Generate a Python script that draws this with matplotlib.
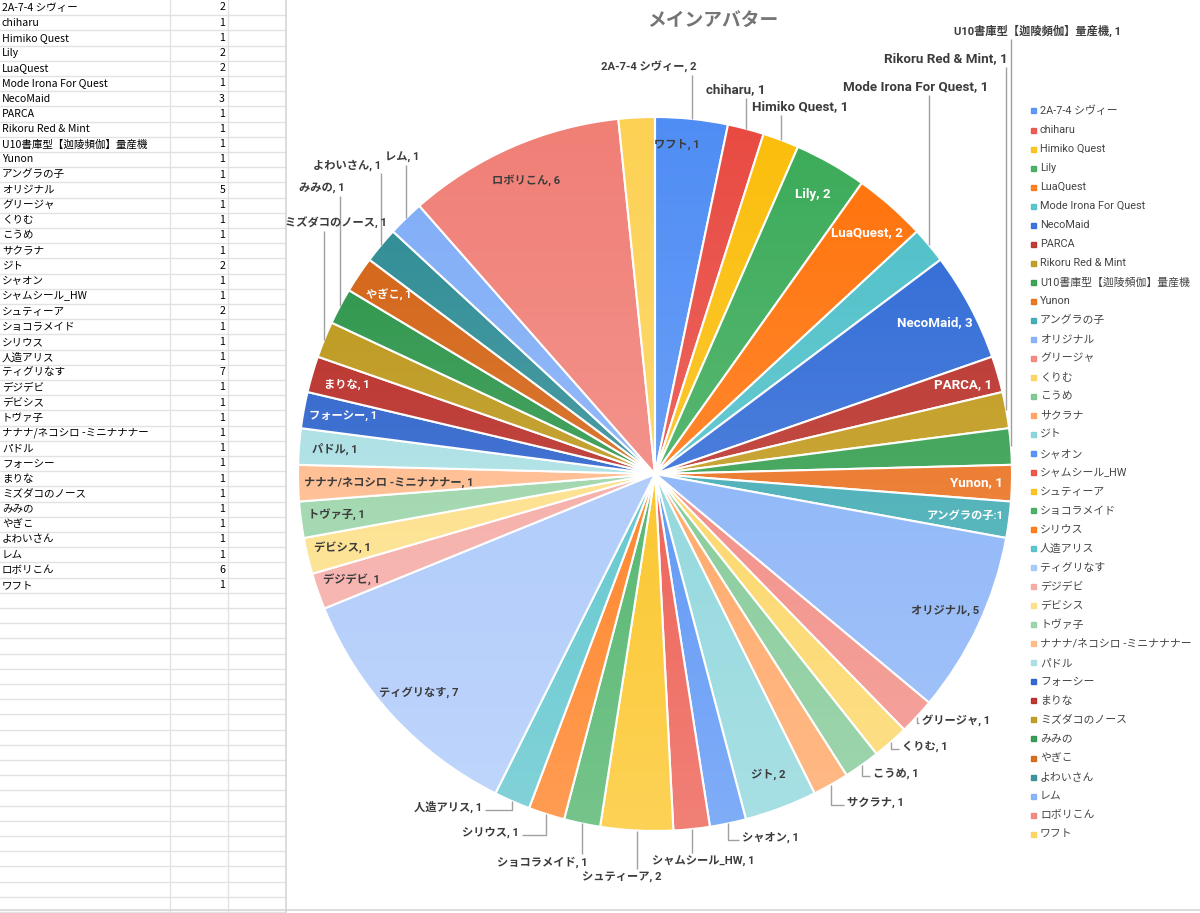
import numpy as np
import matplotlib.pyplot as plt
from matplotlib.patches import Circle, Rectangle

plt.rcParams['font.family'] = ['Roboto', 'Noto Sans CJK JP', 'DejaVu Sans']

names = ['2A-7-4 シヴィー', 'chiharu', 'Himiko Quest', 'Lily', 'LuaQuest',
         'Mode Irona For Quest', 'NecoMaid', 'PARCA', 'Rikoru Red & Mint',
         'U10書庫型【迦陵頻伽】量産機', 'Yunon', 'アングラの子', 'オリジナル',
         'グリージャ', 'くりむ', 'こうめ', 'サクラナ', 'ジト', 'シャオン',
         'シャムシール_HW', 'シュティーア', 'ショコラメイド', 'シリウス', '人造アリス',
         'ティグリなす', 'デジデビ', 'デビシス', 'トヴァ子', 'ナナナ/ネコシロ -ミニナナナー',
         'パドル', 'フォーシー', 'まりな', 'ミズダコのノース', 'みみの', 'やぎこ',
         'よわいさん', 'レム', 'ロボリこん', 'ワフト']
counts = [2, 1, 1, 2, 2, 1, 3, 1, 1, 1, 1, 1, 5, 1, 1, 1, 1, 2, 1, 1, 2, 1, 1, 1,
          7, 1, 1, 1, 1, 1, 1, 1, 1, 1, 1, 1, 1, 6, 1]
colors = ['#4A8AF4', '#E8453C', '#FBBC04', '#34A853', '#FF6D01', '#46BDC6',
          '#2462D4', '#B5231C', '#BC920A', '#23963F', '#E8640A', '#2EA3AC',
          '#7BAAF7', '#F07B72', '#FCD04F', '#71C287', '#FF994D', '#7ED1D7',
          '#4285F4', '#EA4335', '#FBBC04', '#34A853', '#FF6D01', '#46BDC6',
          '#A1C2FA', '#F4A19B', '#FDDC7A', '#8FD0A0', '#FFB37F', '#A0DCE1',
          '#1A55C8', '#B31D17', '#B8900A', '#1E8E3E', '#D15A06', '#23868F',
          '#7BAAF7', '#F07B72', '#FCD04F']

# labels drawn inside the slices
inside = ['ワフト', 'Lily', 'LuaQuest', 'NecoMaid', 'PARCA', 'Yunon', 'アングラの子',
          'オリジナル', 'ジト', 'ティグリなす', 'デジデビ', 'デビシス', 'トヴァ子',
          'ナナナ/ネコシロ -ミニナナナー', 'パドル', 'フォーシー', 'まりな', 'やぎこ', 'ロボリこん']
inside_nudge = {'ワフト': (38, -9)}
label_fmt = {'アングラの子': '{}:{}'}

# labels outside with leader lines: text x, text y, alignment, leader style
outside = {
    '2A-7-4 シヴィー': (649, 67, 'center', 'up'),
    'chiharu': (736, 90, 'center', 'up'),
    'Himiko Quest': (800, 107, 'center', 'up'),
    'Mode Irona For Quest': (916, 87, 'center', 'up'),
    'Rikoru Red & Mint': (946, 59, 'center', 'up'),
    'U10書庫型【迦陵頻伽】量産機': (1037, 31, 'center', 'up'),
    'よわいさん': (347, 165, 'center', 'up'),
    'レム': (402, 157, 'center', 'up'),
    'みみの': (322, 188, 'center', 'up'),
    'ミズダコのノース': (336, 223, 'center', 'up'),
    'グリージャ': (922, 720, 'left', 'side'),
    'くりむ': (902, 746, 'left', 'side'),
    'こうめ': (873, 773, 'left', 'side'),
    'サクラナ': (847, 802, 'left', 'side'),
    'シャオン': (742, 837, 'left', 'side'),
    'シャムシール_HW': (703, 861, 'center', 'down'),
    'シュティーア': (622, 877, 'center', 'down'),
    'ショコラメイド': (542, 862, 'center', 'down'),
    'シリウス': (519, 832, 'right', 'side'),
    '人造アリス': (482, 807, 'right', 'side'),
}

W, H = 1200, 913
fig = plt.figure(figsize=(12, 9.13), dpi=100)
ax = fig.add_axes([0, 0, 1, 1])

# ---- spreadsheet on the left
row_h = 15.2
grid = '#e2e2e2'
for i in range(int(H / row_h) + 1):
    ax.plot([0, 285], [row_h * (i + 1), row_h * (i + 1)], color=grid, lw=1, zorder=1)
for x in (170, 228):
    ax.plot([x, x], [0, H], color=grid, lw=1, zorder=1)
ax.plot([286, 286], [0, H], color='#d6d6d6', lw=1.2, zorder=1)
ax.plot([0, W], [910, 910], color='#d6d6d6', lw=1.2, zorder=1)
for i, (n, c) in enumerate(zip(names, counts)):
    y = row_h * i + 7.5
    ax.text(2, y, n, fontsize=7.6, va='center', ha='left', color='#000000',
            family=['Noto Sans CJK JP'])
    ax.text(225, y, str(c), fontsize=7.6, va='center', ha='right', color='#000000',
            family=['Noto Sans CJK JP'])

# ---- pie
cx, cy, r = 655, 474, 357
wedges, _ = ax.pie(counts, colors=colors, center=(cx, cy), radius=r,
                   startangle=-90, counterclock=True,
                   wedgeprops=dict(edgecolor='white', linewidth=1.5), frame=True)

# soft vertical shading like the original chart: lighter towards the bottom
t = np.linspace(0, 1, 256)
shade = np.ones((256, 4, 4))
shade[:, :, 3] = (0.03 + 0.30 * t)[:, None]
im = ax.imshow(shade, extent=(cx - r, cx + r, cy + r, cy - r), origin='upper',
               aspect='auto', interpolation='bilinear', zorder=3)
clip = Circle((cx, cy), r, transform=ax.transData)
im.set_clip_path(clip)

def lum(hexc):
    h = hexc.lstrip('#')
    rr, gg, bb = int(h[0:2], 16), int(h[2:4], 16), int(h[4:6], 16)
    return 0.299 * rr + 0.587 * gg + 0.114 * bb

def lab_size(s):
    # latin labels render wider in the original than the CJK ones
    return 9.6 if s.isascii() else 8.1

lab_col = '#3c3c3c'
inside_texts = []
for w, n, c, col in zip(wedges, names, counts, colors):
    mid = np.deg2rad((w.theta1 + w.theta2) / 2)
    dx, dy = np.cos(mid), np.sin(mid)
    txt = label_fmt.get(n, '{}, {}').format(n, c)
    if n in inside:
        ox, oy = inside_nudge.get(n, (0, 0))
        tc = 'white' if lum(col) < 150 else lab_col
        t_ = ax.text(cx + 0.9 * r * dx + ox, cy + 0.9 * r * dy + oy, txt,
                     fontsize=lab_size(txt), ha='center', va='center', color=tc,
                     fontweight='bold', zorder=5)
        inside_texts.append(t_)
    elif n in outside:
        tx, ty, ha, kind = outside[n]
        rx, ry = cx + r * dx, cy + r * dy
        if kind == 'up':
            xs, ys = [rx, rx], [ry, ty + 8]
        elif kind == 'down':
            xs, ys = [rx, rx], [ry, ty - 8]
        else:
            end = tx - 3 if ha == 'left' else tx + 3
            xs, ys = [rx, rx, end], [ry, ty + 3, ty + 3]
        ax.plot(xs, ys, color='#a0a0a0', lw=1, zorder=4, solid_capstyle='butt')
        ax.text(tx, ty, txt, fontsize=lab_size(txt), ha=ha, va='center', color=lab_col,
                fontweight='bold', zorder=5)

ax.text(713, 21, 'メインアバター', fontsize=13.5, ha='center', va='center',
        color='#757575', fontweight='bold')

# ---- legend
for i, (n, col) in enumerate(zip(names, colors)):
    y = 111 + i * 19.03
    ax.add_patch(Rectangle((1031, y - 2.5), 5, 5, color=col, alpha=0.85, zorder=5))
    ax.text(1040, y, n, fontsize=7.8, ha='left', va='center', color='#444444')

ax.set_xlim(0, W)
ax.set_ylim(H, 0)
ax.set_aspect('auto')
ax.axis('off')

# keep long inside labels within the circle
fig.canvas.draw()
inv = ax.transData.inverted()
for t_ in inside_texts:
    bb = t_.get_window_extent()
    (x0, _), (x1, _) = inv.transform([[bb.x0, bb.y0], [bb.x1, bb.y1]])
    px, py = t_.get_position()
    half = np.sqrt(max(r ** 2 - (py - cy) ** 2, 0))
    if x0 < cx - half + 6:
        t_.set_x(px + (cx - half + 6 - x0))
    elif x1 > cx + half - 6:
        t_.set_x(px - (x1 - (cx + half - 6)))

fig.savefig('out.png', dpi=100, facecolor='white')
